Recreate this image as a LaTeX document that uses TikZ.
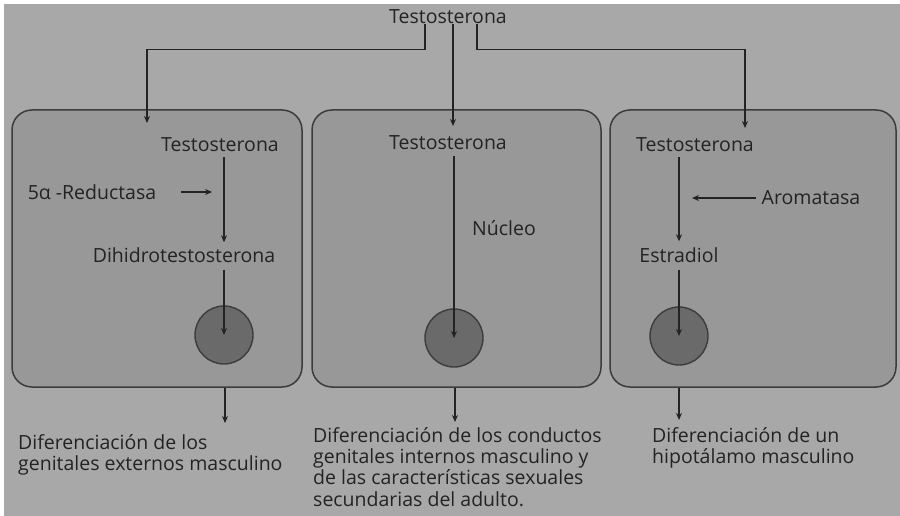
\documentclass[tikz,border=0pt]{standalone}
\usepackage{fontspec}
\setmainfont{Open Sans}
\usetikzlibrary{arrows.meta,calc}
\definecolor{bggray}{RGB}{168,168,168}
\definecolor{boxgray}{RGB}{152,152,152}
\definecolor{nucgray}{RGB}{106,106,106}
\definecolor{inkgray}{RGB}{35,35,35}
\definecolor{edgegray}{RGB}{60,60,60}
\tikzset{
  lbl/.style={text=inkgray, font=\fontsize{19.5}{21.3}\selectfont, inner sep=0pt},
  para/.style={lbl, align=left, anchor=north west},
  cellbox/.style={draw=edgegray, line width=1.5pt, fill=boxgray, rounded corners=20pt},
  nucleo/.style={circle, draw=edgegray, line width=1.4pt, fill=nucgray, minimum size=58pt, inner sep=0pt},
  link/.style={draw=inkgray, line width=1.1pt},
  arr/.style={link, -{Stealth[length=7pt,width=6pt]}},
}
\begin{document}
\begin{tikzpicture}[x=1pt,y=-1pt]
\useasboundingbox (0,0) rectangle (900,516);
\fill[white] (0,0) rectangle (900,516);
\fill[bggray] (4,4) rectangle (900,516);

% top label
\node[lbl] (T) at (448,17) {Testosterona};

% cell boxes
\node[cellbox, minimum width=290pt, minimum height=277pt] (B1) at (157,248.5) {};
\node[cellbox, minimum width=289pt, minimum height=277pt] (B2) at (456.5,248.5) {};
\node[cellbox, minimum width=286pt, minimum height=277pt] (B3) at (753,248.5) {};

% entry points
\coordinate (a1) at (147,123);
\coordinate (a2) at (453,126);
\coordinate (a3) at (745,128);

\draw[arr] ([xshift=-23pt]T.south) -- ++(0,25) -| (a1);
\draw[arr] ([xshift=5pt]T.south) -- (a2);
\draw[arr] ([xshift=29pt]T.south) -- ++(0,25) -| (a3);

% left cell
\node[lbl] (T1) at (220,145) {Testosterona};
\node[lbl] (R1) at (92,192) {5α -Reductasa};
\node[lbl] (D1) at (184,255) {Dihidrotestosterona};
\node[nucleo] (C1) at (224,335) {};
\coordinate (r1) at (212,192);
\draw[arr] ([yshift=-5pt]T1.south -| C1) -- ([yshift=5pt]D1.north -| C1);
\draw[arr] ([xshift=25pt]R1.east) -- (r1);
\draw[arr] ([yshift=-7pt]D1.south -| C1) -- (C1.center);

% middle cell
\node[lbl] (T2) at (448,143) {Testosterona};
\node[lbl] (N2) at (504,228) {Núcleo};
\node[nucleo] (C2) at (454,338) {};
\draw[arr] ([yshift=-6pt]T2.south -| C2) -- (C2.center);

% right cell
\node[lbl] (T3) at (695,145) {Testosterona};
\node[lbl] (A3) at (811,198) {Aromatasa};
\node[lbl] (E3) at (679,255) {Estradiol};
\node[nucleo] (C3) at (679,336) {};
\coordinate (r3) at (692,198);
\draw[arr] ([yshift=-5pt]T3.south -| C3) -- ([yshift=6pt]E3.north);
\draw[arr] ([xshift=-6pt]A3.west) -- (r3);
\draw[arr] ([yshift=-7pt]E3.south) -- (C3.center);

% outputs
\coordinate (o1) at (225,423);
\coordinate (o2) at (455,422);
\coordinate (o3) at (679,420);
\draw[arr] (B1.south -| o1) -- (o1);
\draw[arr] (B2.south -| o2) -- (o2);
\draw[arr] (B3.south -| o3) -- (o3);

\node[para] (L1) at (18,434) {Diferenciación de los\\genitales externos masculino};
\node[para] (L2) at (313,427) {Diferenciación de los conductos\\genitales internos masculino y\\de las características sexuales\\secundarias del adulto.};
\node[para] (L3) at (652,427) {Diferenciación de un\\hipotálamo masculino};
\end{tikzpicture}
\end{document}
